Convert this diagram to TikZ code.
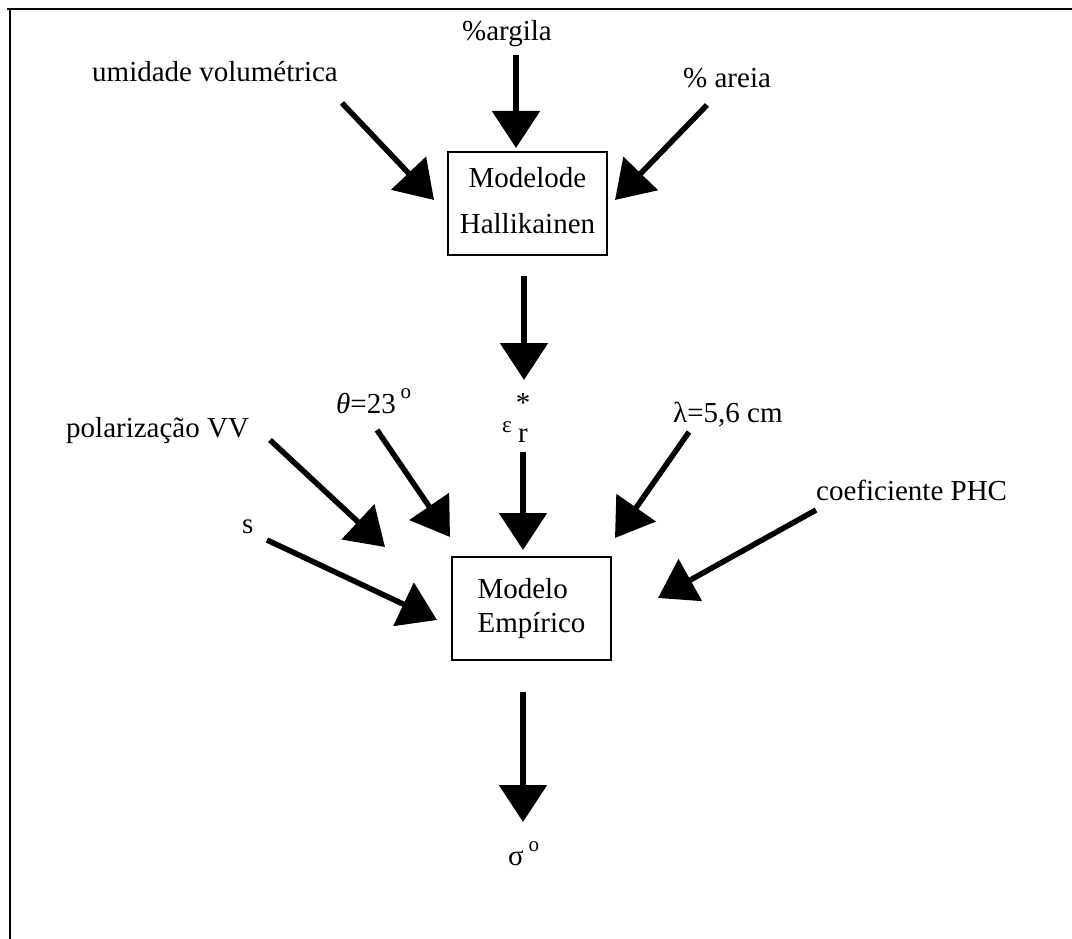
\documentclass[tikz,border=0pt]{standalone}
\usepackage{fontspec}
\setmainfont{Liberation Serif}
\usetikzlibrary{arrows.meta}
\tikzset{
  lbl/.style={inner sep=0pt, anchor=base west, font=\fontsize{29}{34}\selectfont},
  bigarrow/.style={line width=5.5pt, -{Triangle[length=37pt,width=47pt]}},
  modelbox/.style={draw, line width=1.6pt, minimum width=159pt, minimum height=103pt,
    inner sep=0pt, font=\fontsize{29}{34}\selectfont},
  frameline/.style={line width=2pt},
}
\begin{document}
\begin{tikzpicture}[x=1pt,y=-1pt]
\useasboundingbox (0,0) rectangle (1072,939);
% frame
\coordinate (fTL) at (10,9);
\coordinate (fTR) at (1072,9);
\coordinate (fBL) at (10,939);
\draw[frameline] (7,9) -- (fTR);
\draw[frameline] (fTL) -- (fBL);

% boxes
\node[modelbox] (hal) at (527.5,203.5)
  {\raisebox{4pt}{\begin{tabular}{@{}c@{}}Modelode\\[12pt]Hallikainen\end{tabular}}};
\node[modelbox] (emp) at (531.5,608.5)
  {\raisebox{5pt}{\begin{tabular}{@{}l@{}}Modelo\\Empírico\end{tabular}}\hspace{16pt}};

% labels
\node[lbl] (argila) at (462,41) {\%argila};
\node[lbl] (umid) at (92,82) {umidade volumétrica};
\node[lbl] (areia) at (683,88) {\% areia};
\node[lbl] (pol) at (66,437) {polarização VV};
\node[lbl] (theta) at (336,413) {\textit{θ}=23\,\raisebox{15pt}{\fontsize{21}{21}\selectfont o}};
\node[lbl] (s) at (242,533) {s};
\node[lbl] (lam) at (673,422) {λ=5,6 cm};
\node[lbl] (coef) at (816,500) {coeficiente PHC};
\node[lbl, anchor=base] (epsS) at (523,412) {*};
\node[lbl, anchor=base, font=\fontsize{23}{23}\selectfont] (eps) at (507,432) {ε};
\node[lbl, anchor=base] (epsR) at (523,442) {r};
\node[lbl] (sig) at (508,865) {σ\,\raisebox{14pt}{\fontsize{21}{21}\selectfont o}};

% arrow ends
\coordinate (tA) at (516,148);
\coordinate (tH) at (524,380);
\coordinate (tE) at (523,550);
\coordinate (tS) at (523,822);
\coordinate (sU) at (342,103);  \coordinate (tU) at (434,200);
\coordinate (sR) at (707,105);  \coordinate (tR) at (615,200);
\coordinate (sP) at (270,440);  \coordinate (tP) at (385,547);
\coordinate (sT) at (377,430);  \coordinate (tT) at (450,537);
\coordinate (sS) at (267,540);  \coordinate (tSs) at (437,620);
\coordinate (sL) at (689,432);  \coordinate (tL) at (615,538);
\coordinate (sC) at (816,510);  \coordinate (tC) at (658,598);

% vertical connectors
\draw[bigarrow, shorten <=8pt] (argila.south -| tA) -- (tA);
\draw[bigarrow, shorten <=20pt] (hal.south -| tH) -- (tH);
\draw[bigarrow, shorten <=10pt] (epsR.south -| tE) -- (tE);
\draw[bigarrow, shorten <=31pt] (emp.south -| tS) -- (tS);

% diagonal connectors
\draw[bigarrow] (sU) -- (tU);
\draw[bigarrow] (sR) -- (tR);
\draw[bigarrow] (sP) -- (tP);
\draw[bigarrow] (sT) -- (tT);
\draw[bigarrow] (sS) -- (tSs);
\draw[bigarrow] (sL) -- (tL);
\draw[bigarrow] (sC) -- (tC);
\end{tikzpicture}
\end{document}
